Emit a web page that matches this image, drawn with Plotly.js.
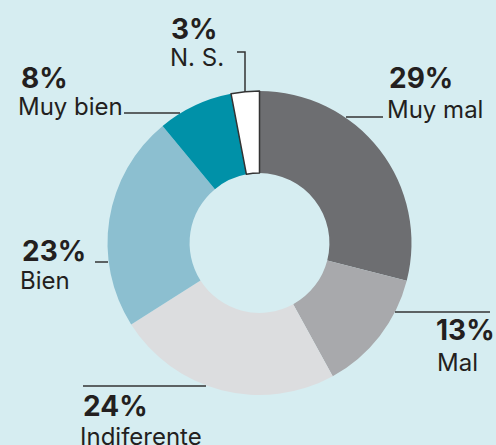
<!DOCTYPE html>
<html><head><meta charset="utf-8">
<script src="https://cdn.plot.ly/plotly-3.0.1.min.js"></script>
<style>html,body{margin:0;padding:0;background:#d6edf1;}</style>
</head><body>
<div id="chart" style="width:496px;height:445px;"></div>
<script>
const categories = ["Muy mal", "Mal", "Indiferente", "Bien", "Muy bien", "N. S."];
const values = [29, 13, 24, 23, 8, 3];
const percentLabels = ["29%", "13%", "24%", "23%", "8%", "3%"];
const colors = ["#6d6e71", "#a8a9ac", "#dcdddf", "#8cbfd0", "#0091a8", "#ffffff"];

const W = 496, H = 445;
const px = x => x / W;
const py = y => 1 - y / H;

// label placements [percentX, percentY, labelX, labelY] in pixels
const labelPos = [
  [387, 78, 385, 109],
  [434, 330, 435, 362],
  [81, 406, 78, 436],
  [20, 251, 18, 280],
  [19, 78, 16, 106],
  [169, 29, 168, 57]
];
const leaders = [
  [[346,117],[383,117]],
  [[395,312],[490,312]],
  [[83,386],[206,386]],
  [[95,262],[108,262]],
  [[124,113],[180,113]],
  [[237,52],[245,52],[245,92]]
];

const annotations = [];
categories.forEach((c, i) => {
  const p = labelPos[i];
  annotations.push({xref:'paper', yref:'paper', x:px(p[0]), y:py(p[1]), xanchor:'left', yanchor:'middle',
    text:'<b>'+percentLabels[i]+'</b>', showarrow:false, font:{family:'Inter, Roboto, sans-serif', size:28, color:'#231f20'}});
  annotations.push({xref:'paper', yref:'paper', x:px(p[2]), y:py(p[3]), xanchor:'left', yanchor:'middle',
    text:c, showarrow:false, font:{family:'Inter, Roboto, sans-serif', size:24, color:'#231f20'}});
});

const shapes = [];
leaders.forEach(pts => {
  let path = 'M' + pts.map(q => px(q[0]) + ',' + py(q[1])).join(' L');
  shapes.push({type:'path', xref:'paper', yref:'paper', path:path, line:{color:'#333333', width:1.5}});
});

const trace = {
  type:'pie', labels:categories, values:values, hole:0.46, sort:false, direction:'clockwise', rotation:0,
  marker:{colors:colors, line:{color:['rgba(0,0,0,0)','rgba(0,0,0,0)','rgba(0,0,0,0)','rgba(0,0,0,0)','rgba(0,0,0,0)','#333333'], width:[0,0,0,0,0,1.5]}},
  textinfo:'none', hoverinfo:'skip',
  domain:{x:[107/W, 412/W], y:[1-395/H, 1-91/H]}
};

Plotly.newPlot('chart', [trace], {
  width:W, height:H, margin:{l:0,r:0,t:0,b:0},
  paper_bgcolor:'#d6edf1', plot_bgcolor:'#d6edf1', showlegend:false,
  annotations:annotations, shapes:shapes
}, {displayModeBar:false, staticPlot:true});
</script>
</body></html>
